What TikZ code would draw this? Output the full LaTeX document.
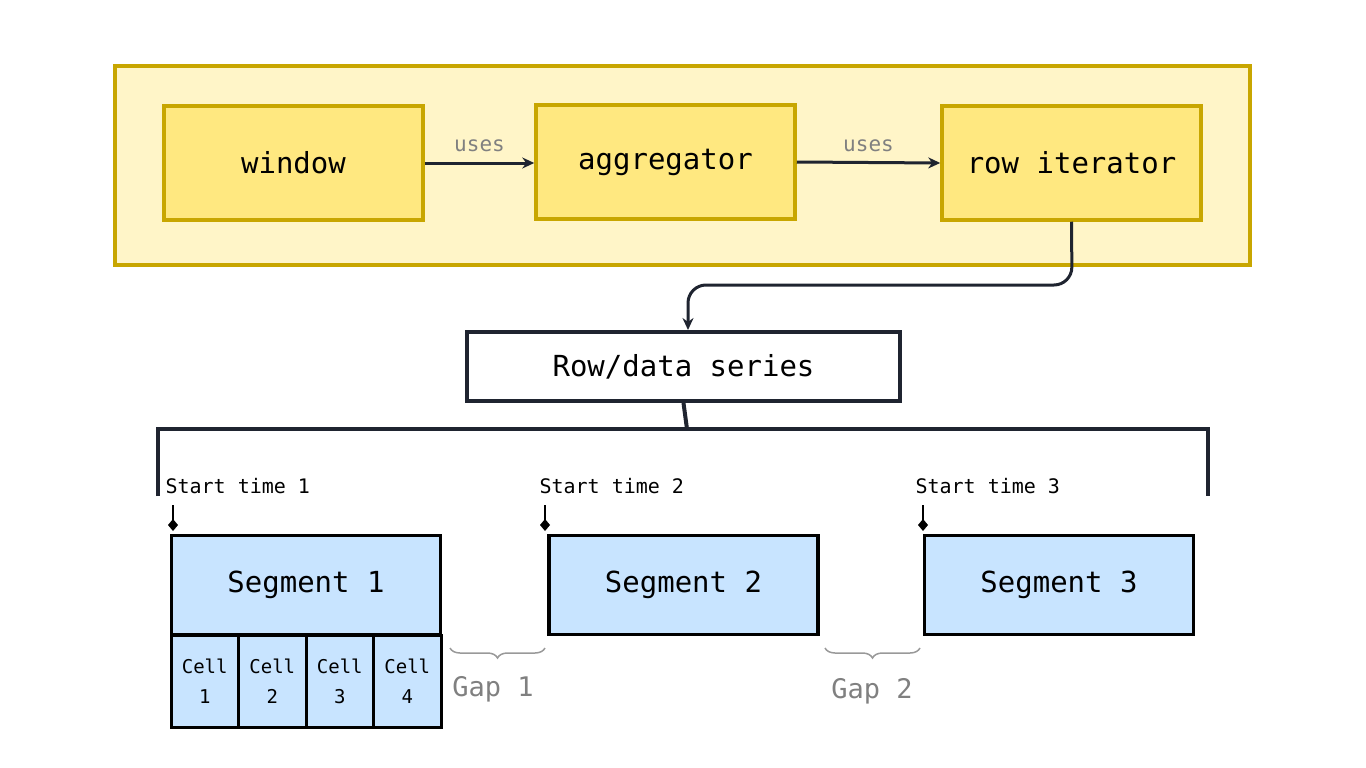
\documentclass[tikz,border=0pt]{standalone}
\usepackage{fontspec}
\setmainfont{DejaVu Sans Mono}
\usetikzlibrary{arrows.meta,decorations.pathreplacing}
\definecolor{dk}{HTML}{1F2430}
\definecolor{ybord}{HTML}{C8A600}
\definecolor{ybg}{HTML}{FFF5C8}
\definecolor{yfill}{HTML}{FFE880}
\definecolor{bfill}{HTML}{C8E4FF}
\begin{document}
\begin{tikzpicture}[x=1pt,y=-1pt,
 ybox/.style={draw=ybord,fill=yfill,line width=3.5pt,minimum width=259pt,minimum height=114pt,font=\fontsize{29}{30}\selectfont},
 seg/.style={draw=black,fill=bfill,line width=3.5pt,minimum width=269pt,minimum height=99pt,font=\fontsize{29}{30}\selectfont},
 cell/.style={draw=black,fill=bfill,line width=3pt,minimum width=67.5pt,minimum height=92pt,align=center,font=\fontsize{19}{30}\selectfont},
 arr/.style={draw=dk,line width=3pt,-{Stealth[length=12pt,width=11pt]}},
 lbl/.style={text=gray,font=\fontsize{21}{24}\selectfont},
 st/.style={anchor=west,font=\fontsize{20}{22}\selectfont},
 gapl/.style={text=gray,font=\fontsize{27}{30}\selectfont},
 brace/.style={draw=gray!80,line width=1.5pt,decorate,decoration={brace,amplitude=10pt,mirror}},
 mk/.style={draw=black,line width=2.5pt}]
\useasboundingbox (0,0) rectangle (1366,768);
\node[draw=ybord,fill=ybg,line width=3.5pt,minimum width=1135pt,minimum height=199pt] (outer) at (682.5,165.5) {};
\node[ybox] (win) at (293.5,163) {window};
\node[ybox] (agg) at (665.5,162) {aggregator};
\node[ybox] (row) at (1071.5,163) {row iterator};
\draw[arr] (win.east) -- node[lbl,above=6pt] (u1) {uses} (agg.west |- win.east);
\draw[arr] (agg.east) -- node[lbl,above=6pt] (u2) {uses} (row.west);
\node[draw=dk,fill=white,line width=4pt,minimum width=433pt,minimum height=69pt,font=\fontsize{29}{30}\selectfont] (rds) at (683.5,366.5) {Row/data series};
\draw[arr,rounded corners=18pt] (row.south) -- (1072,285) -- (688,285) -- (rds.north -| 688,0);
\coordinate (tl) at (158,496); \coordinate (tr) at (1208,496);
\draw[dk,line width=4pt] (rds.south) -- (687,429);
\draw[dk,line width=4pt] (tl) -- (158,429) -- (1208,429) -- (tr);
\node[seg] (s1) at (306,585) {Segment 1};
\node[seg] (s2) at (683.5,585) {Segment 2};
\node[seg] (s3) at (1059,585) {Segment 3};
\foreach \i in {1,2,3,4}{
 \node[cell] (c\i) at ({171+33.75+67.5*(\i-1)},681) {Cell\\\i};
}
\node[st] (t1) at (162,486) {Start time 1};
\node[st] (t2) at (536,486) {Start time 2};
\node[st] (t3) at (912,486) {Start time 3};
\foreach \x/\n in {173/1,545/2,923/3}{
 \coordinate (m\n) at (\x,526);
 \draw[mk] (\x,505) -- (m\n);
 \fill (\x,519) -- (\x+5,525) -- (\x,531) -- (\x-5,525) -- cycle;
}
\coordinate (g1a) at (450,648); \coordinate (g1b) at (545,648);
\coordinate (g2a) at (825,648); \coordinate (g2b) at (920,648);
\draw[brace] (g1a) -- (g1b);
\draw[brace] (g2a) -- (g2b);
\node[gapl] (gap1) at (493,689) {Gap 1};
\node[gapl] (gap2) at (872,691) {Gap 2};
\end{tikzpicture}
\end{document}
